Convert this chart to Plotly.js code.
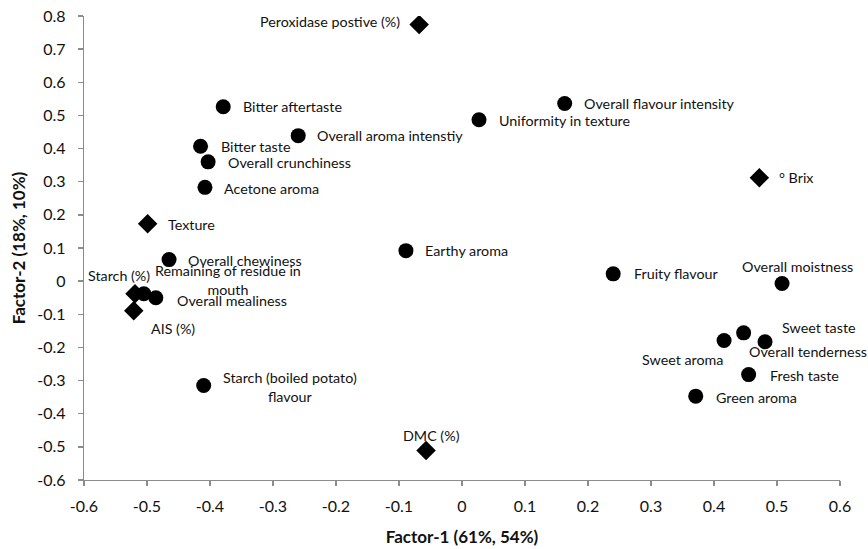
<!DOCTYPE html>
<html>
<head>
<meta charset="utf-8">
<script src="https://cdn.plot.ly/plotly-3.0.1.min.js"></script>
<style>
  html, body { margin: 0; padding: 0; background: #ffffff; }
  #chart { width: 868px; height: 549px; }
</style>
</head>
<body>
<div id="chart"></div>
<script>
// Sensory attributes (circles): factor loadings
const attrNames = [
  "Bitter aftertaste", "Overall aroma intenstiy", "Uniformity in texture",
  "Overall flavour intensity", "Bitter taste", "Overall crunchiness",
  "Acetone aroma", "Overall chewiness", "Remaining of residue in<br>mouth",
  "Overall mealiness", "Earthy aroma", "Fruity flavour", "Overall moistness",
  "Starch (boiled potato)<br>flavour", "Sweet aroma", "Sweet taste",
  "Overall tenderness", "Fresh taste", "Green aroma"
];
const attrF1 = [
  -0.379, -0.260, 0.027,
  0.163, -0.415, -0.403,
  -0.408, -0.465, -0.505,
  -0.486, -0.089, 0.240, 0.508,
  -0.410, 0.416, 0.447,
  0.481, 0.455, 0.371
];
const attrF2 = [
  0.526, 0.439, 0.487,
  0.536, 0.407, 0.360,
  0.283, 0.065, -0.038,
  -0.050, 0.092, 0.022, -0.007,
  -0.315, -0.179, -0.156,
  -0.183, -0.282, -0.347
];

// Physicochemical measurements (diamonds): factor loadings
const measNames = ["Peroxidase postive (%)", "° Brix", "Texture", "Starch (%)", "AIS (%)", "DMC (%)"];
const measF1 = [-0.068, 0.472, -0.499, -0.519, -0.521, -0.057];
const measF2 = [0.774, 0.312, 0.173, -0.038, -0.089, -0.511];

// Axis ticks
const xTicks = [-0.6, -0.5, -0.4, -0.3, -0.2, -0.1, 0, 0.1, 0.2, 0.3, 0.4, 0.5, 0.6];
const yTicks = [-0.6, -0.5, -0.4, -0.3, -0.2, -0.1, 0, 0.1, 0.2, 0.3, 0.4, 0.5, 0.6, 0.7, 0.8];
const tickText = v => (v === 0 ? "0" : v.toFixed(1));

// Label placement relative to each marker: [xanchor, dx px, dy px]
const attrLabelPlace = [
  ["left", 18, 0], ["left", 17, 0], ["left", 18, -1],
  ["left", 17, 0], ["left", 18, 0], ["left", 18, -1],
  ["left", 17, -1], ["left", 17, -1], ["center", 84, 14],
  ["left", 19, -3], ["left", 17, 0], ["left", 19, 0], ["center", 15, 17],
  ["left", 17, -1], ["right", 1, -19], ["left", 36, 5],
  ["left", -18, -10], ["left", 19, -1], ["left", 18, -1]
];
const measLabelPlace = [
  ["right", -17, 3], ["left", 18, 0], ["left", 18, -1],
  ["center", -16, 18], ["center", 39, -18], ["center", 5, 15]
];

const FONT = "Lato, 'Liberation Sans', sans-serif";
const labelFont = { family: FONT, size: 14.3, color: "#111111" };

function makeLabels(names, xs, ys, place) {
  return names.map((n, i) => ({
    x: xs[i], y: ys[i], xref: "x", yref: "y",
    text: n, showarrow: false,
    xanchor: place[i][0], yanchor: "middle", align: "center",
    xshift: place[i][1], yshift: place[i][2],
    font: labelFont
  }));
}

const traces = [
  {
    type: "scatter", mode: "markers", name: "Sensory attributes",
    x: attrF1, y: attrF2,
    marker: { symbol: "circle", size: 15, color: "#000000" },
    hoverinfo: "skip"
  },
  {
    type: "scatter", mode: "markers", name: "Measurements",
    x: measF1, y: measF2,
    marker: { symbol: "diamond", size: 15, color: "#000000" },
    hoverinfo: "skip"
  }
];

const axisCommon = {
  showgrid: false, zeroline: false,
  showline: true, linecolor: "#8c8c8c", linewidth: 1.3,
  ticks: "outside", ticklen: 5, tickcolor: "#8c8c8c", tickwidth: 1.3,
  tickfont: { family: FONT, size: 16, color: "#111111" }
};

const titleFont = { family: FONT, size: 17, color: "#111111", weight: "bold" };

const layout = {
  width: 868, height: 549,
  margin: { l: 84, r: 28, t: 16, b: 69 },
  paper_bgcolor: "#ffffff", plot_bgcolor: "#ffffff",
  showlegend: false,
  xaxis: Object.assign({}, axisCommon, {
    range: [-0.6, 0.6],
    tickmode: "array", tickvals: xTicks, ticktext: xTicks.map(tickText),
    ticklabelstandoff: 6,
    title: { text: "Factor-1 (61%, 54%)", standoff: 17, font: titleFont }
  }),
  yaxis: Object.assign({}, axisCommon, {
    range: [-0.6, 0.8],
    tickmode: "array", tickvals: yTicks, ticktext: yTicks.map(tickText),
    ticklabelstandoff: 9,
    title: { text: "Factor-2 (18%, 10%)", standoff: 7, font: titleFont }
  }),
  annotations: makeLabels(attrNames, attrF1, attrF2, attrLabelPlace)
    .concat(makeLabels(measNames, measF1, measF2, measLabelPlace))
};

Plotly.newPlot("chart", traces, layout, { staticPlot: true, displayModeBar: false });
</script>
</body>
</html>
